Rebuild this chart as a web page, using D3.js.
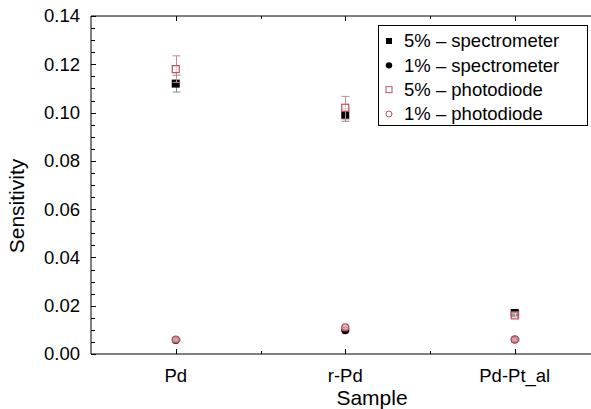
<!DOCTYPE html>
<html>
<head>
<meta charset="utf-8">
<script src="https://cdn.jsdelivr.net/npm/d3@7"></script>
<style>
  body { margin: 0; background: #fff; }
  text { font-family: Arial, "Liberation Sans", sans-serif; fill: #000; }
</style>
</head>
<body>
<svg id="chart" width="591" height="409"></svg>
<script>
// values
const samples = ["Pd", "r-Pd", "Pd-Pt_al"]
const spec5 = [0.112, 0.099, 0.0170]
const spec5Err = [0.0035, 0.0026, 0.0008]
const spec1 = [0.0058, 0.0098, 0.0060]
const spec1Err = [0.0003, 0.0004, 0.0003]
const photo5 = [0.118, 0.102, 0.0160]
const photo5Err = [0.0055, 0.0047, 0.0010]
const photo1 = [0.0060, 0.0110, 0.0060]
const photo1Err = [0.0003, 0.0004, 0.0003]
const yTicks = [0, 0.02, 0.04, 0.06, 0.08, 0.10, 0.12, 0.14]
const legendLabels = ["5% \u2013 spectrometer", "1% \u2013 spectrometer", "5% \u2013 photodiode", "1% \u2013 photodiode"]

const svg = d3.select("#chart")
const margin = {left: 91, top: 16, bottom: 354}

const x = d3.scaleLinear().domain([0.5, 3.5]).range([margin.left, margin.left + 3 * 169.5])
const y = d3.scaleLinear().domain([0, 0.14]).range([margin.bottom, margin.top])

const red = "#c0505e"
const redBar = "#c98a94"
const greyBar = "#8a8a8a"

// frame lines
svg.append("line").attr("x1", margin.left).attr("x2", 591).attr("y1", margin.top).attr("y2", margin.top).attr("stroke", "#000")
svg.append("line").attr("x1", margin.left).attr("x2", 591).attr("y1", margin.bottom).attr("y2", margin.bottom).attr("stroke", "#000")

// left axis, ticks inside
const yMinor = d3.range(0, 0.1401, 0.005)
svg.append("g").selectAll("line").data(yMinor).join("line")
    .attr("x1", margin.left).attr("x2", (d, i) => margin.left + (i % 4 == 0 ? 5 : 4))
    .attr("y1", d => Math.round(y(d)) + 0.5).attr("y2", d => Math.round(y(d)) + 0.5)
    .attr("stroke", "#000")
svg.append("line").attr("x1", margin.left).attr("x2", margin.left).attr("y1", margin.top).attr("y2", margin.bottom).attr("stroke", "#000")

svg.append("g").selectAll("text").data(yTicks).join("text")
    .attr("x", 80).attr("y", d => y(d)).attr("dy", "0.35em")
    .attr("text-anchor", "end").attr("font-size", 18.5)
    .text(d => d3.format(".2f")(d))

// bottom / top ticks
const xMajor = [1, 2, 3]
const xMinor = [1.5, 2.5, 3.5]
;[[margin.bottom, -1], [margin.top, 1]].forEach(([yy, dir]) => {
  svg.append("g").selectAll("line").data(xMajor).join("line")
      .attr("x1", d => Math.round(x(d)) + 0.5).attr("x2", d => Math.round(x(d)) + 0.5)
      .attr("y1", yy).attr("y2", yy + dir * 5).attr("stroke", "#000")
  svg.append("g").selectAll("line").data(xMinor).join("line")
      .attr("x1", d => Math.round(x(d)) + 0.5).attr("x2", d => Math.round(x(d)) + 0.5)
      .attr("y1", yy).attr("y2", yy + dir * 3).attr("stroke", "#000")
})

svg.append("g").selectAll("text").data(samples).join("text")
    .attr("x", (d, i) => x(i + 1)).attr("y", 382)
    .attr("text-anchor", "middle").attr("font-size", 18.5)
    .text(d => d)

svg.append("text").attr("x", 372).attr("y", 405).attr("text-anchor", "middle")
    .attr("font-size", 21).text("Sample")
svg.append("text").attr("transform", `translate(24,206) rotate(-90)`)
    .attr("text-anchor", "middle").attr("font-size", 21).text("Sensitivity")

// error bars
function errorBars(vals, errs, color) {
  const g = svg.append("g").attr("stroke", color).attr("stroke-width", 1)
  vals.forEach((v, i) => {
    const cx = Math.round(x(i + 1)) + 0.5
    g.append("line").attr("x1", cx).attr("x2", cx).attr("y1", y(v - errs[i])).attr("y2", y(v + errs[i]))
    ;[v - errs[i], v + errs[i]].forEach(e => {
      g.append("line").attr("x1", cx - 4).attr("x2", cx + 4).attr("y1", y(e)).attr("y2", y(e))
    })
  })
}
errorBars(spec5, spec5Err, greyBar)
errorBars(spec1, spec1Err, greyBar)

// spectrometer markers
svg.append("g").selectAll("rect").data(spec5).join("rect")
    .attr("x", (d, i) => x(i + 1) - 4).attr("y", d => y(d) - 4)
    .attr("width", 8).attr("height", 8).attr("fill", "#000")
svg.append("g").selectAll("circle").data(spec1).join("circle")
    .attr("cx", (d, i) => x(i + 1)).attr("cy", d => y(d)).attr("r", 4).attr("fill", "#000")

errorBars(photo5, photo5Err, redBar)
errorBars(photo1, photo1Err, redBar)

svg.append("g").selectAll("rect").data(photo5).join("rect")
    .attr("x", (d, i) => x(i + 1) - 3.5).attr("y", d => y(d) - 3.5)
    .attr("width", 7).attr("height", 7).attr("fill", "#fff").attr("fill-opacity", 0.6)
    .attr("stroke", red).attr("stroke-width", 1.2)
svg.append("g").selectAll("circle").data(photo1).join("circle")
    .attr("cx", (d, i) => x(i + 1)).attr("cy", d => y(d)).attr("r", 3.5)
    .attr("fill", "#e8b4ba").attr("fill-opacity", 0.8)
    .attr("stroke", red).attr("stroke-width", 1.2)

// legend
const lg = svg.append("g")
lg.append("rect").attr("x", 378.5).attr("y", 25.5).attr("width", 209).attr("height", 100)
    .attr("fill", "#fff").attr("stroke", "#000")
const rowY = d3.scalePoint().domain(legendLabels).range([41, 114])
lg.selectAll("text").data(legendLabels).join("text")
    .attr("x", 404).attr("y", d => rowY(d)).attr("dy", "0.35em")
    .attr("font-size", 18.5).text(d => d)
const mx = 389
lg.append("rect").attr("x", mx - 3).attr("y", rowY(legendLabels[0]) - 3).attr("width", 6).attr("height", 6).attr("fill", "#000")
lg.append("circle").attr("cx", mx).attr("cy", rowY(legendLabels[1])).attr("r", 3.2).attr("fill", "#000")
lg.append("rect").attr("x", mx - 3).attr("y", rowY(legendLabels[2]) - 3).attr("width", 6).attr("height", 6)
    .attr("fill", "#fff").attr("stroke", red)
lg.append("circle").attr("cx", mx).attr("cy", rowY(legendLabels[3])).attr("r", 3)
    .attr("fill", "#fff").attr("stroke", red)
</script>
</body>
</html>
